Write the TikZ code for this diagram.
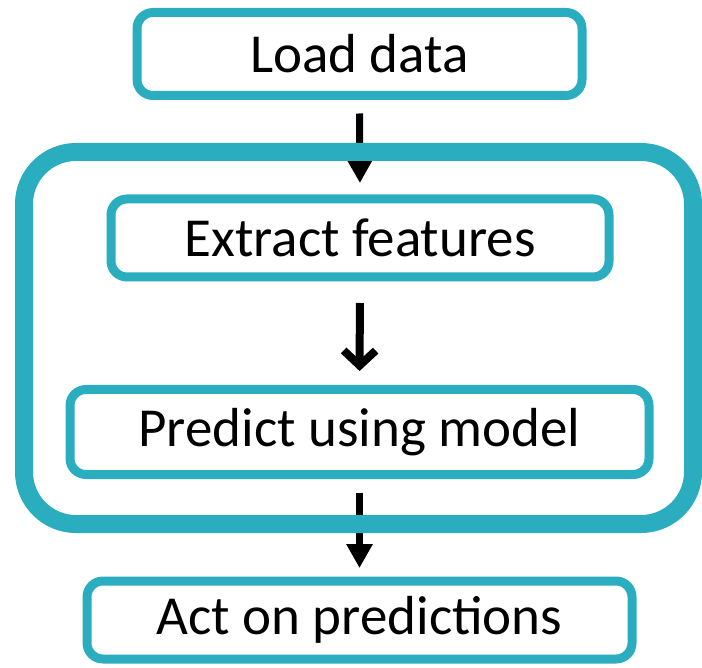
\documentclass[tikz,border=0pt]{standalone}
\usepackage{fontspec}
\setmainfont{Carlito}
\usetikzlibrary{arrows.meta}
\definecolor{teal1}{RGB}{42,173,190}
\tikzset{
  stepbox/.style={draw=teal1, line width=9pt, rounded corners=16pt, fill=white,
    inner sep=0pt, font=\fontsize{55}{60}\selectfont, text=black},
  bigbox/.style={draw=teal1, line width=18pt, rounded corners=52pt, inner sep=0pt},
  flowfill/.style={line width=7pt, -{Triangle[length=24pt,width=25pt]}},
  flowopen/.style={line width=8pt, -{Straight Barb[length=15pt,width=32pt,line width=8pt]}}
}
\begin{document}
\begin{tikzpicture}[x=1pt,y=-1pt]
\useasboundingbox (0,0) rectangle (702,668);
\node[stepbox, minimum width=445pt, minimum height=83pt] (load) at (359.5,54) {Load data};
\node[stepbox, minimum width=498pt, minimum height=78pt] (extract) at (360,238) {Extract features};
\node[stepbox, minimum width=579pt, minimum height=85pt] (predict) at (359.5,432) {Predict using model};
\node[stepbox, minimum width=545pt, minimum height=78pt] (act) at (359.5,620) {Act on predictions};
\draw[flowfill, shorten <=13.5pt, shorten >=11.5pt] (load.south) -- (extract.north);
\draw[flowopen, shorten <=21.5pt, shorten >=14pt] (extract.south) -- (predict.north);
\draw[flowfill, shorten <=13.5pt, shorten >=8.5pt] (predict.south) -- (act.north);
\node[bigbox, minimum width=669pt, minimum height=372pt] (loop) at (358.5,338) {};
\end{tikzpicture}
\end{document}
